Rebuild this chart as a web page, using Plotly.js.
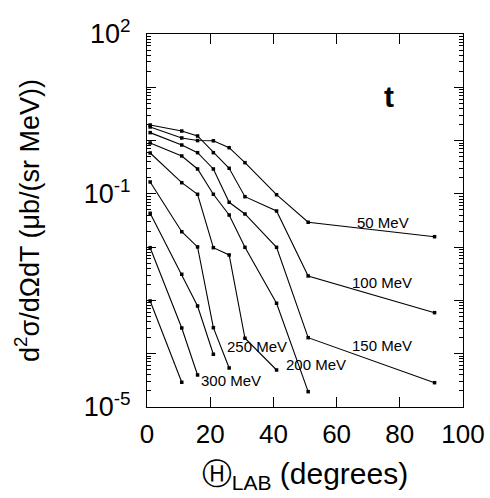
<!DOCTYPE html>
<html>
<head>
<meta charset="utf-8">
<script src="https://cdn.plot.ly/plotly-3.0.1.min.js"></script>
<style>html,body{margin:0;padding:0;background:#fff;}#chart{width:490px;height:498px;}</style>
</head>
<body>
<div id="chart"></div>
<script>
// Angles (degrees, lab frame)
const angles = [1, 11, 16, 21, 26, 31, 41, 51, 91];

// d2sigma/dOmega dT values, one array per curve
const c50  = [1.80, 1.12, 1.00, 0.99, 0.735, 0.385, 0.0964, 0.0293, 0.0157];
const c100 = [1.96, 1.51, 1.22, 0.593, 0.302, 0.0885, 0.0477, 0.00288, 0.000589];
const c150 = [1.41, 0.826, 0.593, 0.293, 0.0695, 0.0419, 0.00993, 0.000200, 0.0000286];
const c200 = [0.901, 0.514, 0.293, 0.0982, 0.0401, 0.00993, 0.000885, 0.0000194];
const c250 = [0.585, 0.162, 0.0982, 0.00977, 0.00713, 0.000195, 0.0000495];
const c300 = [0.167, 0.0195, 0.0101, 0.000308, 0.0000540];
const c350 = [0.0432, 0.00310, 0.000787, 0.0000977];
const c400 = [0.00977, 0.000304, 0.0000399];
const c450 = [0.000977, 0.0000291];

const curves = [c50, c100, c150, c200, c250, c300, c350, c400, c450];

const labelText = ['50 MeV', '100 MeV', '150 MeV', '200 MeV', '250 MeV', '300 MeV'];
const labelX = [74.8, 74.4, 74.4, 53.5, 34.8, 26.6];
const labelY = [0.0296, 0.00213, 0.000140, 0.0000615, 0.000134, 0.0000308];

const yTickVals = [1e-5, 1e-4, 1e-3, 1e-2, 1e-1, 1, 10, 100];
const yTickText = ['10<sup>-5</sup>', '', '', '', '10<sup>-1</sup>', '', '', '10<sup>2</sup>'];
const xTickVals = [0, 20, 40, 60, 80, 100];

const minorVals = [];
for (let e = -5; e < 2; e++) for (let m = 2; m <= 9; m++) minorVals.push(m * Math.pow(10, e));

const traces = curves.map(c => ({
  x: angles.slice(0, c.length),
  y: c,
  type: 'scatter',
  mode: 'lines+markers',
  line: {color: '#000', width: 1.1},
  marker: {color: '#000', size: 3.5, symbol: 'square'},
  showlegend: false,
  hoverinfo: 'skip'
}));

const annotations = labelText.map((t, i) => ({
  x: labelX[i], y: Math.log10(labelY[i]), xref: 'x', yref: 'y',
  text: t, showarrow: false,
  font: {family: 'Liberation Sans, Arial, sans-serif', size: 15, color: '#000'}
}));
annotations.push({
  x: 76.7, y: 0.818, xref: 'x', yref: 'y', text: '<b>t</b>', showarrow: false,
  font: {family: 'Liberation Sans, Arial, sans-serif', size: 30, color: '#000'}
});

const layout = {
  width: 490, height: 498,
  margin: {l: 147, r: 27, t: 34, b: 91},
  paper_bgcolor: '#fff', plot_bgcolor: '#fff',
  font: {family: 'Liberation Sans, Arial, sans-serif', color: '#000'},
  xaxis: {
    range: [0, 100], tickmode: 'array', tickvals: xTickVals,
    ticks: 'inside', ticklen: 10, tickwidth: 1, tickcolor: '#000',
    showline: true, linecolor: '#000', linewidth: 1, mirror: 'ticks',
    showgrid: false, zeroline: false,
    tickfont: {size: 26},
    ticklabelstandoff: 4,
    title: {text: 'Ⓗ<sub>LAB</sub> (degrees)', font: {size: 30}, standoff: 14}
  },
  yaxis: {
    type: 'log', range: [-5, 2], tickmode: 'array', tickvals: yTickVals, ticktext: yTickText,
    ticks: 'inside', ticklen: 9, tickwidth: 1, tickcolor: '#000',
    minor: {tickmode: 'array', tickvals: minorVals, ticks: 'inside', ticklen: 4, tickcolor: '#000', showgrid: false},
    showline: true, linecolor: '#000', linewidth: 1, mirror: 'ticks',
    showgrid: false, zeroline: false,
    tickfont: {size: 27},
    ticklabelstandoff: 10,
    title: {text: 'd<sup>2</sup>σ/dΩdT (μb/(sr MeV))', font: {size: 27}, standoff: 36}
  },
  annotations: annotations
};

Plotly.newPlot('chart', traces, layout, {staticPlot: true});
</script>
</body>
</html>
